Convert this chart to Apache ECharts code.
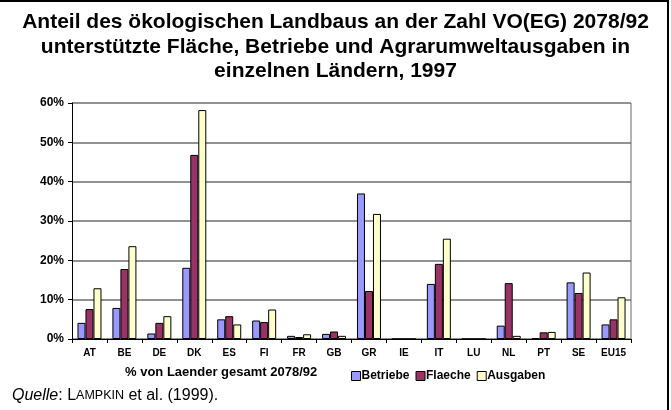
<!DOCTYPE html>
<html>
<head>
<meta charset="utf-8">
<script src="https://cdn.jsdelivr.net/npm/echarts@6/dist/echarts.min.js"></script>
<style>
  html, body { margin: 0; padding: 0; background: #fff; }
  #frame { position: absolute; left: 0; top: 0; width: 669px; height: 410px; border-top: 2px solid #000; border-right: 2px solid #000; box-sizing: border-box; }
  #chart { position: absolute; left: 0; top: 0; width: 671px; height: 410px; }
</style>
</head>
<body>
<div id="chart"></div>
<div id="frame"></div>
<script>
// Kategorien (Länder) und Werte in %
const countries = ['AT', 'BE', 'DE', 'DK', 'ES', 'FI', 'FR', 'GB', 'GR', 'IE', 'IT', 'LU', 'NL', 'PT', 'SE', 'EU15'];
const betriebe = [4.1, 7.9, 1.4, 18.1, 5.0, 4.7, 0.8, 1.3, 37.0, 0, 14.0, 0, 3.4, 0.2, 14.4, 3.7];
const flaeche = [7.6, 17.8, 4.1, 46.8, 5.8, 4.3, 0.5, 1.9, 12.2, 0, 19.1, 0, 14.2, 1.7, 11.7, 5.0];
const ausgaben = [12.9, 23.6, 5.8, 58.2, 3.7, 7.5, 1.2, 0.8, 31.8, 0, 25.5, 0, 0.8, 1.8, 16.9, 10.6];
const yTicks = [0, 10, 20, 30, 40, 50, 60];

const font = '"Liberation Sans", Arial, sans-serif';
const chart = echarts.init(document.getElementById('chart'));

const mkSeries = (name, data, color) => ({
  name: name,
  type: 'bar',
  data: data,
  barWidth: 8,
  barGap: '0%',
  itemStyle: { color: color, borderColor: '#000', borderWidth: 1 },
  emphasis: { disabled: true }
});

chart.setOption({
  animation: false,
  textStyle: { fontFamily: font },
  title: {
    text: 'Anteil des ökologischen Landbaus an der Zahl VO(EG) 2078/92\nunterstützte Fläche, Betriebe und Agrarumweltausgaben in\neinzelnen Ländern, 1997',
    left: 'center',
    top: 5,
    textStyle: { fontFamily: font, fontSize: 21, fontWeight: 'bold', color: '#000', lineHeight: 24.5 }
  },
  grid: { left: 72, right: 40, top: 103, bottom: 71 },
  legend: {
    data: ['Betriebe', 'Flaeche', 'Ausgaben'],
    left: 346,
    top: 365,
    icon: 'rect',
    itemWidth: 9,
    itemHeight: 9,
    itemGap: 6,
    textStyle: { fontFamily: font, fontSize: 12, fontWeight: 'bold', color: '#000', padding: [0, 0, 0, -4] },
    itemStyle: { borderColor: '#000', borderWidth: 1 }
  },
  xAxis: {
    type: 'category',
    data: countries,
    axisLine: { lineStyle: { color: '#000', width: 1 } },
    axisTick: { show: true, length: 4, interval: 0, lineStyle: { color: '#000' } },
    axisLabel: { interval: 0, margin: 9, fontSize: 10, fontWeight: 'bold', color: '#000', fontFamily: font }
  },
  yAxis: {
    type: 'value',
    min: yTicks[0],
    max: yTicks[yTicks.length - 1],
    interval: 10,
    axisLine: { show: true, lineStyle: { color: '#000', width: 1 } },
    axisTick: { show: true, length: 4, lineStyle: { color: '#000' } },
    axisLabel: { formatter: '{value}%', margin: 8, fontSize: 12, fontWeight: 'bold', color: '#000', fontFamily: font },
    splitLine: { show: true, lineStyle: { color: '#6e6e6e', width: 1.5 } }
  },
  graphic: [
    { type: 'line', shape: { x1: 631, y1: 103, x2: 631, y2: 339 }, style: { stroke: '#9a9a9a', lineWidth: 1.5 } },
    { type: 'text', left: 125, top: 366, style: { text: '% von Laender gesamt 2078/92', font: 'bold 13px ' + font, fill: '#000' } },
    {
      type: 'text', left: 12, top: 388,
      style: {
        text: '{i|Quelle}: L{s|AMPKIN} et al. (1999).',
        font: '16px ' + font,
        fill: '#000',
        rich: {
          i: { fontStyle: 'italic', fontSize: 16, fontFamily: font },
          s: { fontSize: 12.5, fontFamily: font }
        }
      }
    }
  ],
  series: [
    mkSeries('Betriebe', betriebe, '#9999ff'),
    mkSeries('Flaeche', flaeche, '#993366'),
    mkSeries('Ausgaben', ausgaben, '#ffffcc')
  ]
});
</script>
</body>
</html>
